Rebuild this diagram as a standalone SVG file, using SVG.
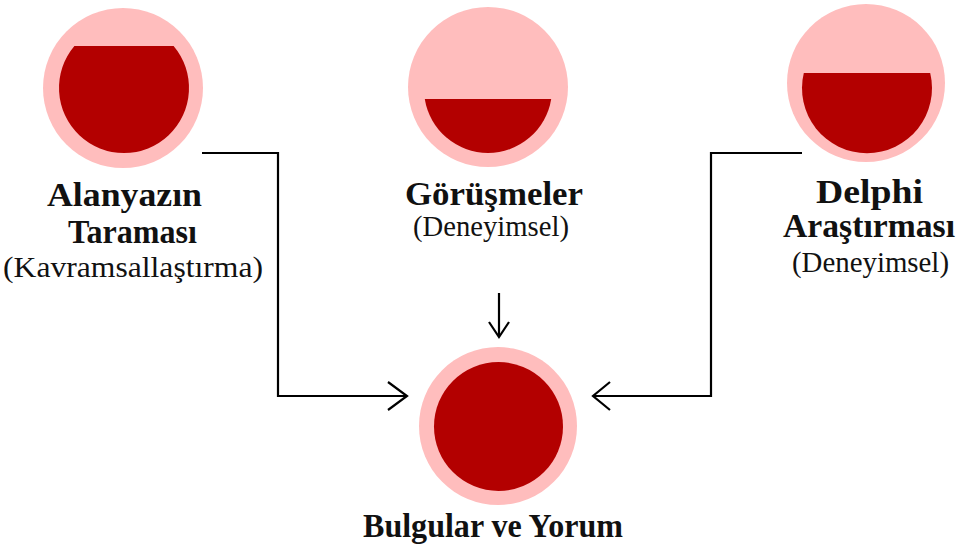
<svg xmlns="http://www.w3.org/2000/svg" width="965" height="553" viewBox="0 0 965 553">
<style>
.outer{fill:#FFBDBD}
.inner{fill:#B30000}
.b{font-family:"Liberation Serif","DejaVu Serif",serif;font-weight:bold;font-size:33px;fill:#111}
.r{font-family:"Liberation Serif","DejaVu Serif",serif;font-size:29px;fill:#111}
.conn{fill:none;stroke:#000;stroke-width:2.2}
</style>
<rect width="965" height="553" fill="#fff"/>
<g id="alanyazin">
<circle class="outer" cx="123" cy="88" r="80"/>
<path class="inner" d="M74.4 46 A65 65 0 1 0 173.6 46 Z"/>
<text class="b" x="47" y="206" textLength="155" lengthAdjust="spacingAndGlyphs">Alanyazın</text>
<text class="b" x="68" y="243" textLength="129" lengthAdjust="spacingAndGlyphs">Taraması</text>
<text class="r" x="3" y="277" textLength="260" lengthAdjust="spacingAndGlyphs">(Kavramsallaştırma)</text>
</g>
<g id="gorusmeler">
<circle class="outer" cx="488" cy="87" r="80"/>
<path class="inner" d="M424.8 99 A64 64 0 0 0 551.2 99 Z"/>
<text class="b" x="405" y="205" textLength="178" lengthAdjust="spacingAndGlyphs">Görüşmeler</text>
<text class="r" x="413" y="236" textLength="156" lengthAdjust="spacingAndGlyphs">(Deneyimsel)</text>
</g>
<g id="delphi">
<circle class="outer" cx="866" cy="83" r="79"/>
<path class="inner" d="M803.8 73 A65 65 0 1 0 930.2 73 Z"/>
<text class="b" x="816" y="203" textLength="107" lengthAdjust="spacingAndGlyphs">Delphi</text>
<text class="b" x="783" y="237" textLength="172" lengthAdjust="spacingAndGlyphs">Araştırması</text>
<text class="r" x="792" y="272" textLength="157" lengthAdjust="spacingAndGlyphs">(Deneyimsel)</text>
</g>
<g id="bulgular">
<circle class="outer" cx="498" cy="426" r="79"/>
<circle class="inner" cx="498.5" cy="426.5" r="64.5"/>
<text class="b" x="363" y="537" textLength="260" lengthAdjust="spacingAndGlyphs">Bulgular ve Yorum</text>
</g>
<g id="connectors">
<path class="conn" d="M202 153 H278 V396 H406"/>
<path class="conn" d="M388 382 L407 396 L388 410"/>
<path class="conn" d="M802 153 H711 V396 H594"/>
<path class="conn" d="M610 382 L593 396 L610 410"/>
<path class="conn" d="M499 293 V336"/>
<path class="conn" d="M489 322 L499 337 L509 322"/>
</g>
</svg>
